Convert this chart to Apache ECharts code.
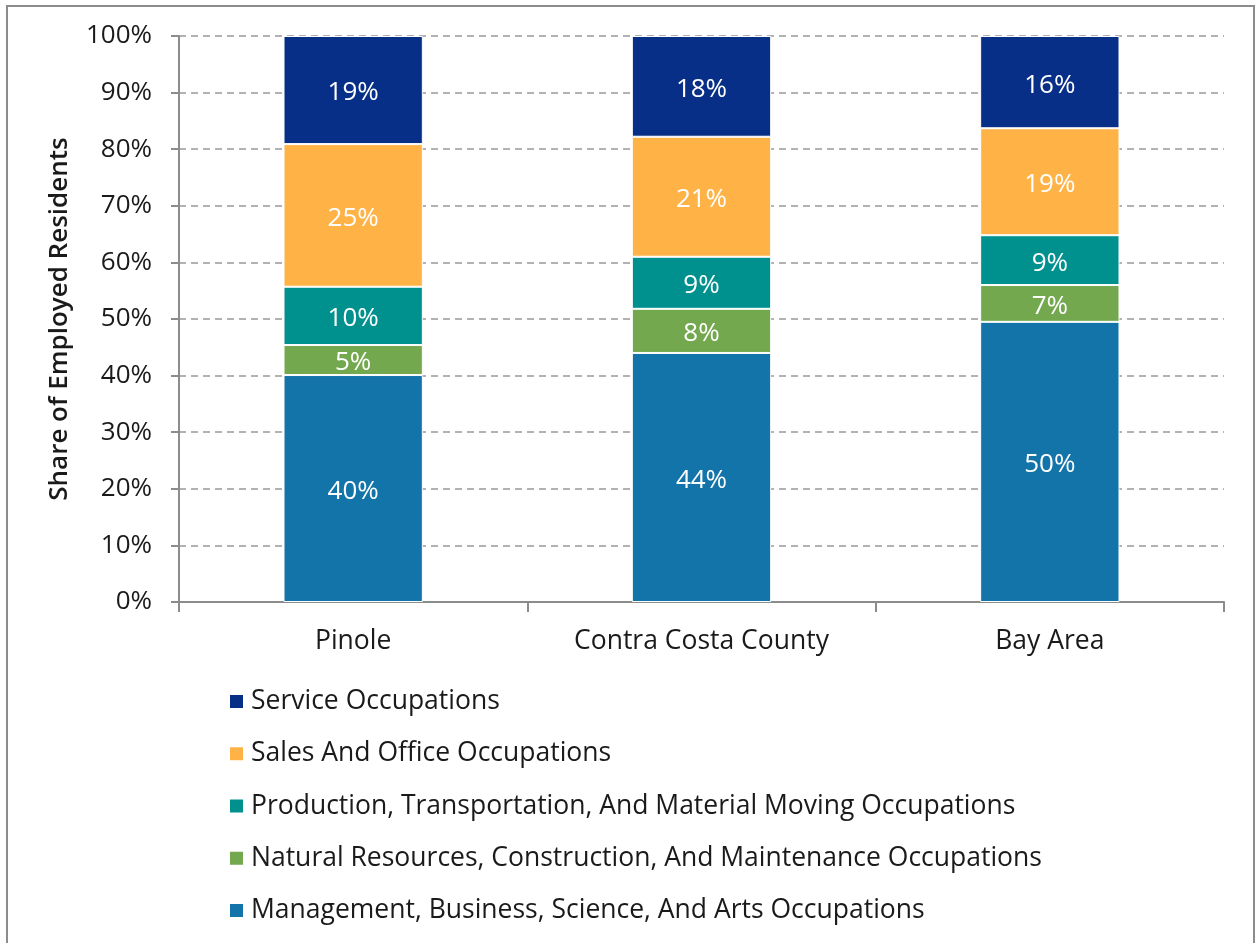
<!DOCTYPE html>
<html>
<head>
<meta charset="utf-8">
<style>
  html, body { margin: 0; padding: 0; background: #fff; }
  #frame { position: absolute; left: 6px; top: 5px; width: 1249px; height: 960px; border: 2px solid #8c8c8c; box-sizing: border-box; }
  #chart { position: absolute; left: 0; top: 0; width: 1258px; height: 943px; }
</style>
<script src="https://cdn.jsdelivr.net/npm/echarts@6/dist/echarts.min.js"></script>
</head>
<body>
<div id="frame"></div>
<div id="chart"></div>
<script>
  // 类别与各职业占比 (%)
  var categories = ['Pinole', 'Contra Costa County', 'Bay Area']
  var management = [40.1, 44.0, 49.5]
  var natural = [5.3, 7.8, 6.5]
  var production = [10.3, 9.2, 8.8]
  var sales = [25.2, 21.2, 18.9]
  var service = [19.1, 17.8, 16.3]

  var seriesNames = [
    'Management, Business, Science, And Arts Occupations',
    'Natural Resources, Construction, And Maintenance Occupations',
    'Production, Transportation, And Material Moving Occupations',
    'Sales And Office Occupations',
    'Service Occupations'
  ]
  var seriesData = [management, natural, production, sales, service]
  var colors = ['#1274a9', '#73a84f', '#00918f', '#ffb347', '#072f87']

  var font = '"Open Sans", "Noto Sans", sans-serif'

  var chart = echarts.init(document.getElementById('chart'))
  chart.setOption({
    animation: false,
    color: colors,
    textStyle: { fontFamily: font },
    grid: {
      left: 179,
      right: 34,
      top: 36,
      bottom: 341
    },
    legend: {
      orient: 'vertical',
      left: 223,
      top: 683,
      itemWidth: 15,
      itemHeight: 15,
      itemGap: 25.25,
      icon: 'rect',
      data: seriesNames.slice().reverse(),
      textStyle: { fontFamily: font, fontSize: 26.5, color: '#1a1a1a', padding: [0, 0, 0, 2] }
    },
    xAxis: {
      type: 'category',
      data: categories,
      axisLine: { lineStyle: { color: '#8c8c8c', width: 2 } },
      axisTick: { show: true, length: 10, lineStyle: { color: '#8c8c8c', width: 2 } },
      axisLabel: { fontFamily: font, fontSize: 26.5, color: '#1a1a1a', margin: 26 }
    },
    yAxis: {
      type: 'value',
      min: 0,
      max: 100,
      interval: 10,
      name: 'Share of Employed Residents',
      nameLocation: 'middle',
      nameGap: 106,
      nameTextStyle: { fontFamily: font, fontSize: 26, fontWeight: 600, color: '#1a1a1a' },
      axisLine: { show: true, lineStyle: { color: '#8c8c8c', width: 2 } },
      axisTick: { show: true, length: 8, lineStyle: { color: '#8c8c8c', width: 2 } },
      axisLabel: { fontFamily: font, fontSize: 26, color: '#1a1a1a', margin: 27, formatter: '{value}%' },
      splitLine: { lineStyle: { color: '#999', type: [7, 5], width: 1.5 } }
    },
    series: seriesNames.map(function (name, i) {
      return {
        name: name,
        type: 'bar',
        stack: 'total',
        barWidth: '40%',
        data: seriesData[i],
        itemStyle: { borderColor: '#fff', borderWidth: 1 },
        label: {
          show: true,
          position: 'inside',
          offset: [0, 3],
          color: '#fff',
          fontFamily: font,
          fontSize: 26,
          formatter: function (p) { return Math.round(p.value) + '%' }
        }
      }
    })
  })
</script>
</body>
</html>
